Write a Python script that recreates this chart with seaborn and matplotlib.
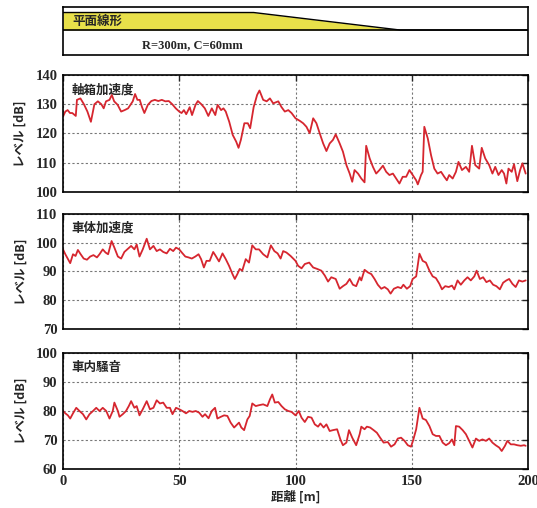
import numpy as np
import pandas as pd
import matplotlib
matplotlib.use("Agg")
import matplotlib.pyplot as plt
import seaborn as sns

# ---------------- data ----------------
axle_x = [0, 1, 2, 3, 4, 5.5, 6, 7.5, 9, 10.5, 12, 13.5, 15, 16.5, 17.5, 18.5, 20, 21, 22, 23.5,
          25, 26.5, 28, 29, 30, 31, 32, 33, 34, 35, 36.5, 38, 39.5, 41, 42.5, 44, 45.5, 47, 48.5, 50,
          51, 52, 53, 54.5, 55.5, 57, 58, 59.5, 61, 62.5, 64, 65.5, 66.5, 68, 69, 70, 71.5, 73, 74.5, 75.5,
          76.5, 78, 79.5, 80.5, 82, 83.5, 84.5, 86.1, 87.6, 89, 90.4, 92.6, 94, 95.4, 96.9, 98.3, 100, 101.9,
          103.3, 104.7, 106.1, 107.6, 109, 110.4, 111.9, 113.3, 114.7, 116.1, 117.3, 119, 120.4, 121.9, 123.3,
          124.4, 125.4, 126.9, 128.3, 129.7, 130.4, 131.9, 133.3, 134.7, 136.1, 137.6, 139, 140.4, 141.9,
          143.3, 144.7, 146.1, 147.6, 149, 150.4, 151.9, 152.6, 154, 154.7, 155.4, 156.9, 158.3, 159.7, 161.1,
          162.6, 164, 165.1, 166.1, 167.6, 169, 170.1, 171.6, 173.3, 174.7, 175.9, 177.3, 179, 180.1, 181.6,
          183.3, 184.7, 185.9, 187.3, 188.7, 189.7, 190.7, 191.6, 193, 194, 195.4, 196.6, 197.6, 199]
axle_y = [125.8, 127.5, 128, 127, 127, 126, 131.5, 132, 130, 127.5, 124, 130, 131, 130, 128.6, 131, 131.5, 133.2, 131, 129.8,
          127.5, 128, 128.6, 129.8, 131, 133.5, 131.5, 131.5, 129, 127, 129.8, 131.1, 131.5, 131.1, 131.5, 131, 131.1, 130, 128.6, 127.5,
          127, 128, 126.6, 129, 126.3, 129.8, 131.1, 130, 128.6, 126, 128.6, 126.3, 129.8, 128, 128.6, 127.5, 124, 119.5, 117.2, 115.1,
          117.8, 123.5, 123.5, 121.8, 129, 133.2, 134.7, 131.5, 131, 132, 130.3, 131, 129, 127.5, 128, 127, 125.2, 124.3,
          123.5, 122.3, 120.1, 125.2, 123.5, 120.1, 116.6, 114, 116.6, 117.8, 119.7, 116.6, 113.8, 109.2, 106.3,
          103.5, 107.5, 106.3, 104.6, 103.3, 115.8, 111.5, 108.6, 106.3, 107.5, 109, 106.9, 105.8, 106.3,
          104.6, 102.9, 105.2, 105.2, 107.5, 105.8, 104, 102.6, 105.8, 106.9, 122.3, 118.3, 112.6, 108, 106.3,
          106.9, 105.2, 104, 105.8, 104.6, 106.9, 110.3, 107.5, 108.6, 106.9, 115.8, 109.2, 108, 115.1, 111.5,
          109.2, 106.3, 108.6, 105.8, 107.5, 106.3, 102.9, 108, 106.9, 109.5, 103.7, 107.5, 109.8, 106.3]

body_x = [0, 1, 2, 3.1, 4.3, 5.4, 6.4, 7.6, 8.9, 10.3, 11.7, 13.1, 14.6, 15.7, 17.1, 18.3, 19.4, 20.9, 22.1, 23.6,
          25, 26.4, 27.9, 29.3, 30.7, 31.7, 32.9, 34.3, 36, 37.4, 38.9, 40.3, 41.7, 43.1, 44.6, 46, 47.4, 48.6, 50,
          51.1, 52.6, 54, 55.4, 56.9, 58.3, 59.4, 60.6, 61.7, 63.1, 64.6, 65.7, 67.1, 68.6, 70, 71.4, 72.9, 73.9,
          75, 76, 77.1, 78.6, 80, 81.4, 82.9, 84.3, 86.1, 87.9, 89.4, 90.9, 92.3, 93.6, 94.7, 96.1, 97.9, 100,
          101.1, 102.6, 104, 105.9, 107.6, 109.3, 111.1, 112.6, 114, 115.4, 117.3, 119, 120.4, 121.9, 123.3, 124.7,
          126.1, 127.6, 128.3, 129.7, 131.1, 132.6, 134, 135.4, 136.9, 138.3, 139.7, 140.9, 142.3, 144, 145.4,
          146.4, 147.9, 149.3, 150.4, 151.9, 153.3, 154.7, 156.1, 157.6, 159, 160.4, 161.9, 163, 164.4, 165.9,
          167.3, 168.3, 169.7, 171.1, 172.6, 174, 175.4, 176.9, 177.9, 179.3, 180.7, 182.1, 183.6, 185, 186.4,
          187.9, 189.3, 190.7, 191.9, 193.3, 194.7, 196.1, 197.6, 199]
body_y = [97.7, 96, 94.5, 92.9, 96, 95.4, 97.5, 96, 94.5, 94.1, 95.2, 95.7, 94.9, 96, 97.7, 96.6, 96, 100.6, 98.3, 95.2,
          94.5, 96.8, 97.9, 98.9, 97.7, 99.4, 95.2, 97.7, 101.4, 97.7, 98.9, 97.1, 97.7, 96.8, 96.3, 97.9, 97.1, 98.3, 97.7,
          96.6, 95.2, 94.9, 94.5, 95.2, 96, 94.3, 91.4, 93.7, 93.7, 96.8, 95.4, 93.5, 96.3, 94.3, 92, 89.1, 87.4,
          89.1, 90.9, 90.3, 94.3, 93.1, 99.1, 97.7, 97.7, 96, 94.9, 99.1, 97.1, 96.3, 94.5, 97.1, 96.6, 95.4, 93.7,
          92, 91.1, 92.6, 93.1, 91.4, 90.9, 90.3, 88.6, 86.5, 88, 87.4, 84, 84.9, 85.7, 87.4, 85.4,
          84.9, 88, 86.9, 90.6, 89.7, 89.1, 87.4, 85.4, 84, 84.6, 83.8, 82.3, 84, 84.6, 84.2,
          85.4, 84, 84.9, 87.4, 88.3, 96.2, 93.7, 93.1, 90.3, 88.3, 87.7, 85.7, 83.8, 84.9, 84.6,
          85.1, 83.8, 86.9, 85.4, 86.9, 88, 86.9, 88.3, 90.3, 87.4, 88, 86.3, 86.9, 85.4, 84.9,
          83.8, 86.1, 86.9, 87.4, 85.7, 84.6, 86.9, 86.5, 86.9]

noise_x = [0, 1, 2.1, 3.1, 4.3, 5.7, 7.1, 8.6, 10, 11.4, 12.9, 14.3, 15.7, 17.1, 18.6, 20, 21.4, 22.1, 23.6, 24.3,
           25.7, 27.1, 28.3, 29.3, 30.7, 31.7, 32.9, 34.3, 36, 37.4, 38.9, 40.3, 41.7, 43.1, 44.6, 46, 47.1, 48.6, 50,
           51.4, 52.9, 54.3, 55.7, 57.1, 58.6, 60, 61.1, 62.6, 64, 65.4, 66.4, 67.9, 69.3, 70.7, 72.1, 73.6, 74.6,
           75.7, 76.7, 77.9, 79.3, 80.3, 81.4, 82.9, 84.3, 86.1, 87.9, 89, 90, 91.1, 92.6, 94, 95.4, 96.9, 98.3, 100,
           101.4, 102.6, 104, 105.4, 106.9, 108.3, 109.7, 110.7, 112.1, 113.3, 114.7, 116.1, 117.9, 119.3, 120.4,
           121.9, 123, 124.4, 126.1, 127.6, 128.3, 129.7, 130.7, 132.1, 133.6, 135, 136.4, 137.9, 139.7, 141.1,
           142.6, 144, 145.4, 146.9, 148.3, 149.7, 150.7, 151.9, 153.3, 154.7, 156.1, 157.6, 159, 160.4, 161.9,
           163.3, 164.7, 166.1, 167.3, 168.3, 169, 170.4, 171.9, 173.3, 174.7, 176.1, 177.6, 179, 180.4, 181.9,
           183.3, 184.7, 186.1, 187.6, 188.7, 190.1, 191.1, 192.6, 194, 195.4, 196.9, 198.3, 199]
noise_y = [80, 79.2, 78.5, 77.4, 79.2, 81.1, 80, 78.9, 77.1, 78.9, 80, 81.1, 80, 81.1, 80, 77.4, 80, 82.9, 80, 78,
           78.9, 80, 81.7, 83.4, 81.1, 81.7, 78.5, 80.6, 83.4, 80.6, 81.1, 83.7, 82.6, 82.9, 81.1, 81.1, 78.9, 81.1, 80.6,
           80, 79.2, 80, 79.7, 80, 79.4, 78, 78.9, 77.5, 80, 81.1, 77.4, 78, 78.5, 78.3, 76, 74.3, 75.1,
           76, 74.3, 73.4, 77.1, 78.3, 82.6, 81.7, 82, 82.3, 81.7, 84, 85.7, 82.9, 83.1, 81.7, 80.6, 80, 79.7, 78.5,
           80, 77.7, 76.2, 78, 77.7, 75.4, 74.6, 75.7, 74.3, 75.4, 73.1, 73.4, 73.7, 70.2, 68.2,
           69.1, 73.4, 70.8, 68.2, 72, 74.6, 73.7, 74.6, 74.3, 73.4, 72.5, 70.8, 69.1, 69.3, 67.7,
           68.5, 70.5, 70.8, 69.7, 68.2, 67.7, 70.2, 73.7, 81.1, 77.4, 76.9, 74.8, 72, 71.4, 71.4,
           69.1, 68.2, 68.9, 70.2, 68.2, 74.8, 74.6, 73.4, 72, 69.7, 67.4, 70.5, 69.7, 70.2, 69.7,
           70.5, 69.1, 68.2, 67.4, 66.2, 68, 69.7, 68.5, 68.5, 68.2, 68, 68.2, 68]

panel_titles = ["軸箱加速度", "車体加速度", "車内騒音"]
panel_ylims = [(100, 140), (70, 110), (60, 100)]
x_ticks = [0, 50, 100, 150, 200]

# plane alignment: distance vs. normalized curvature level (straight -> transition -> curve)
align_x = [0, 82, 145, 200]
align_level = [1, 1, 0, 0]
align_label = "平面線形"
curve_label = "R=300m, C=60mm"

# ---------------- style ----------------
sns.set_style("white")
JP = ["Noto Sans CJK JP", "DejaVu Sans"]
SERIF = ["Liberation Serif", "DejaVu Serif"]
plt.rcParams["font.family"] = SERIF
plt.rcParams["font.weight"] = "bold"
RED = "#d6262f"

fig = plt.figure(figsize=(5.37, 5.08), dpi=100)
left, width = 63 / 537, 465 / 537

# alignment strip
ax0 = fig.add_axes([left, 1 - 55 / 508, width, 48 / 508])
base, top = 0.52, 0.885
lvl = np.array(align_level, dtype=float)
ytop = base + lvl * (top - base)
ax0.fill_between(align_x, base, ytop, color="#e8e04a", lw=0)
ax0.plot(align_x, ytop, color="black", lw=1.0)
ax0.axhline(base, color="black", lw=1.2)
ax0.set_xlim(0, 200)
ax0.set_ylim(0, 1)
ax0.set_xticks([])
ax0.set_yticks([])
for s in ax0.spines.values():
    s.set_linewidth(1.2)
    s.set_color("black")
ax0.text(4, 0.71, align_label, family=JP, fontweight="bold", fontsize=9, va="center", ha="left")
ax0.text(34, 0.21, curve_label, family=SERIF, fontweight="bold", fontsize=9, va="center", ha="left")

series = [(axle_x, axle_y), (body_x, body_y), (noise_x, noise_y)]
rects = [(75, 192), (214, 329), (353, 469)]
axes = []
for i, ((xs, ys), (ty, by)) in enumerate(zip(series, rects)):
    ax = fig.add_axes([left, 1 - by / 508, width, (by - ty) / 508])
    df = pd.DataFrame({"x": xs, "y": ys})
    sns.lineplot(data=df, x="x", y="y", ax=ax, color=RED, lw=1.3, estimator=None, sort=False)
    ax.set_xlim(0, 200)
    ax.set_ylim(*panel_ylims[i])
    lo, hi = panel_ylims[i]
    ax.set_yticks(np.arange(lo, hi + 1, 10))
    ax.set_xticks(x_ticks)
    ax.grid(True, color="#777777", lw=0.8, ls=(0, (2, 2)))
    ax.tick_params(direction="in", length=4, width=1, top=True, right=True,
                   labelsize=10.5, pad=4)
    for lab in ax.get_yticklabels() + ax.get_xticklabels():
        lab.set_fontweight("bold")
    for s in ax.spines.values():
        s.set_linewidth(1.2)
        s.set_color("black")
    ax.set_ylabel("レベル [dB]", family=JP, fontweight="bold", fontsize=9, labelpad=6)
    ax.text(0.018, 0.93, panel_titles[i], transform=ax.transAxes, family=JP,
            fontweight="bold", fontsize=9, va="top", ha="left")
    if i < 2:
        ax.set_xticklabels([])
        ax.set_xlabel("")
    else:
        ax.set_xlabel("距離 [m]", family=JP, fontweight="bold", fontsize=9, labelpad=2)
    axes.append(ax)

fig.savefig("out.png", dpi=100)
